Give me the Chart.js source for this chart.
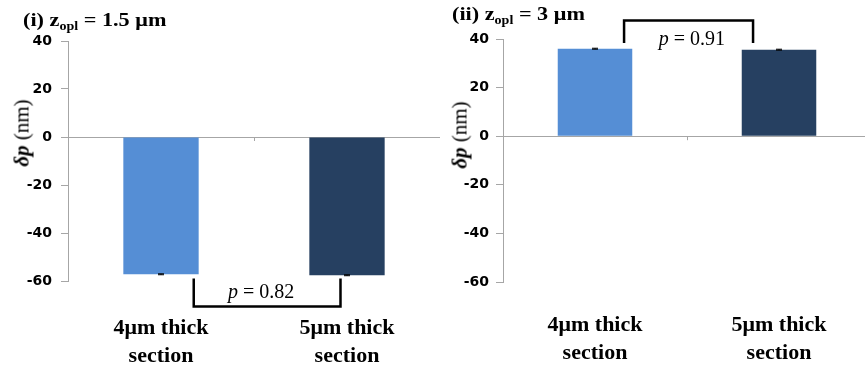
<!DOCTYPE html>
<html>
<head>
<meta charset="utf-8">
<script src="https://cdn.jsdelivr.net/npm/chart.js@4.4.1/dist/chart.umd.min.js"></script>
<style>
  html, body { margin: 0; padding: 0; background: #fff; width: 865px; height: 368px; overflow: hidden; position: relative; }
  .panel { position: absolute; top: 0; height: 368px; }
  .title { position: absolute; font-family: "Liberation Serif", serif; font-weight: bold; font-size: 19px; color: #000; white-space: nowrap; transform: scaleX(1.17); transform-origin: left top; line-height: 1; }
  .title sub { font-size: 12px; vertical-align: -4px; }
  .ytitle { position: absolute; font-family: "Liberation Serif", serif; font-size: 21px; color: #000; white-space: nowrap; transform: translate(-50%, -50%) rotate(-90deg); line-height: 1; }
  .ytitle b { font-style: italic; }
</style>
</head>
<body>
<div class="panel" style="left:0;width:440px;"><canvas id="c1"></canvas></div>
<div class="panel" style="left:430px;width:441px;"><canvas id="c2"></canvas></div>
<div class="title" style="left:23px;top:10px;">(i) z<sub>opl</sub> = 1.5 μm</div>
<div class="title" style="left:452px;top:4px;">(ii) z<sub>opl</sub> = 3 μm</div>
<div class="ytitle" style="left:22px;top:133px;"><b>δp</b> (nm)</div>
<div class="ytitle" style="left:460px;top:135px;"><b>δp</b> (nm)</div>
<script>
// ---- data ----
const categories = [["4μm thick", "section"], ["5μm thick", "section"]];
const yTicks = [40, 20, 0, -20, -40, -60];
const valuesZ15 = [-57.2, -57.6];   // z_opl = 1.5 µm
const errorsZ15 = [0.2, 0.2];
const valuesZ3 = [36.0, 35.6];      // z_opl = 3 µm
const errorsZ3 = [0.2, 0.2];
const pValueZ15 = "0.82";
const pValueZ3 = "0.91";
const barColors = ["#558ED5", "#264061"];

const axisGrey = "#A6A6A6";

const extrasPlugin = {
  id: "extras",
  afterDatasetsDraw(chart, args, opts) {
    const ctx = chart.ctx;
    const x = chart.scales.x, y = chart.scales.y;
    ctx.save();
    // middle category tick on zero line
    const y0 = y.getPixelForValue(0);
    const xm = (x.getPixelForValue(0) + x.getPixelForValue(1)) / 2;
    ctx.strokeStyle = axisGrey; ctx.lineWidth = 1;
    ctx.beginPath(); ctx.moveTo(Math.round(xm) + 0.5, y0); ctx.lineTo(Math.round(xm) + 0.5, y0 + 4); ctx.stroke();
    // error bars
    const ds = chart.data.datasets[0];
    const meta = chart.getDatasetMeta(0);
    ctx.strokeStyle = "#000"; ctx.lineWidth = 1;
    ds.data.forEach((v, i) => {
      const e = opts.errors[i];
      const bx = meta.data[i].x;
      const yt = y.getPixelForValue(v + e), yb = y.getPixelForValue(v - e);
      ctx.beginPath();
      ctx.moveTo(bx, yt); ctx.lineTo(bx, yb);
      ctx.moveTo(bx - 3, yt); ctx.lineTo(bx + 3, yt);
      ctx.moveTo(bx - 3, yb); ctx.lineTo(bx + 3, yb);
      ctx.stroke();
    });
    // significance bracket
    const b = opts.bracket;
    const xa = x.getPixelForValue(b.x0), xb = x.getPixelForValue(b.x1);
    const yl = y.getPixelForValue(b.yLeg), yh = y.getPixelForValue(b.yBar);
    ctx.strokeStyle = "#000"; ctx.lineWidth = 2.5; ctx.lineJoin = "miter";
    ctx.beginPath();
    ctx.moveTo(xa, yl); ctx.lineTo(xa, yh); ctx.lineTo(xb, yh); ctx.lineTo(xb, yl);
    ctx.stroke();
    // p label
    const px = x.getPixelForValue(b.labelX), py = y.getPixelForValue(b.labelY);
    ctx.fillStyle = "#000"; ctx.textBaseline = "middle"; ctx.textAlign = "left";
    const f1 = "italic 20px 'Liberation Serif'", f2 = "20px 'Liberation Serif'";
    const t1 = "p", t2 = " = " + b.p;
    ctx.font = f1; const w1 = ctx.measureText(t1).width;
    ctx.font = f2; const w2 = ctx.measureText(t2).width;
    let sx = px - (w1 + w2) / 2;
    ctx.font = f1; ctx.fillText(t1, sx, py);
    ctx.font = f2; ctx.fillText(t2, sx + w1, py);
    ctx.restore();
  }
};

function makeChart(id, values, errors, cfg) {
  return new Chart(document.getElementById(id), {
    type: "bar",
    data: {
      labels: categories,
      datasets: [{ data: values, backgroundColor: barColors, borderWidth: 0,
                   categoryPercentage: 1, barPercentage: 0.405 }]
    },
    plugins: [extrasPlugin],
    options: {
      responsive: true, maintainAspectRatio: false, animation: false,
      devicePixelRatio: 1,
      layout: { padding: { top: cfg.top, right: 0, left: 0, bottom: 0 } },
      plugins: { legend: { display: false }, tooltip: { enabled: false },
                 extras: { errors: errors, bracket: cfg.bracket } },
      scales: {
        x: {
          grid: { display: false, drawTicks: false },
          border: { display: false },
          ticks: { color: "#000", padding: cfg.xPad, maxRotation: 0, autoSkip: false,
                   font: { family: "'Liberation Serif'", size: 22, weight: "bold", lineHeight: 1.25 } },
          afterFit(s) { s.height = cfg.xH; }
        },
        y: {
          min: -60, max: 40,
          afterBuildTicks(s) { s.ticks = yTicks.map(v => ({ value: v })); },
          grid: {
            color: c => (c.tick && c.tick.value === 0) ? axisGrey : "rgba(0,0,0,0)",
            tickColor: axisGrey, tickLength: 7, lineWidth: 1
          },
          border: { display: true, color: axisGrey, width: 1 },
          ticks: { color: "#000", padding: cfg.yPad,
                   font: { family: "'DejaVu Sans'", size: 14, weight: "bold" } },
          afterFit(s) { s.width = cfg.yW; }
        }
      }
    }
  });
}

makeChart("c1", valuesZ15, errorsZ15, {
  top: 41, xH: 87, yW: 68, yPad: 9, xPad: 34,
  bracket: { x0: 0.176, x1: 0.965, yLeg: -59, yBar: -70.6, labelX: 0.538, labelY: -65, p: pValueZ15 }
});
makeChart("c2", valuesZ3, errorsZ3, {
  top: 39, xH: 86, yW: 73, yPad: 7, xPad: 30,
  bracket: { x0: 0.158, x1: 0.859, yLeg: 38.4, yBar: 47.6, labelX: 0.527, labelY: 39.6, p: pValueZ3 }
});
</script>
</body>
</html>
